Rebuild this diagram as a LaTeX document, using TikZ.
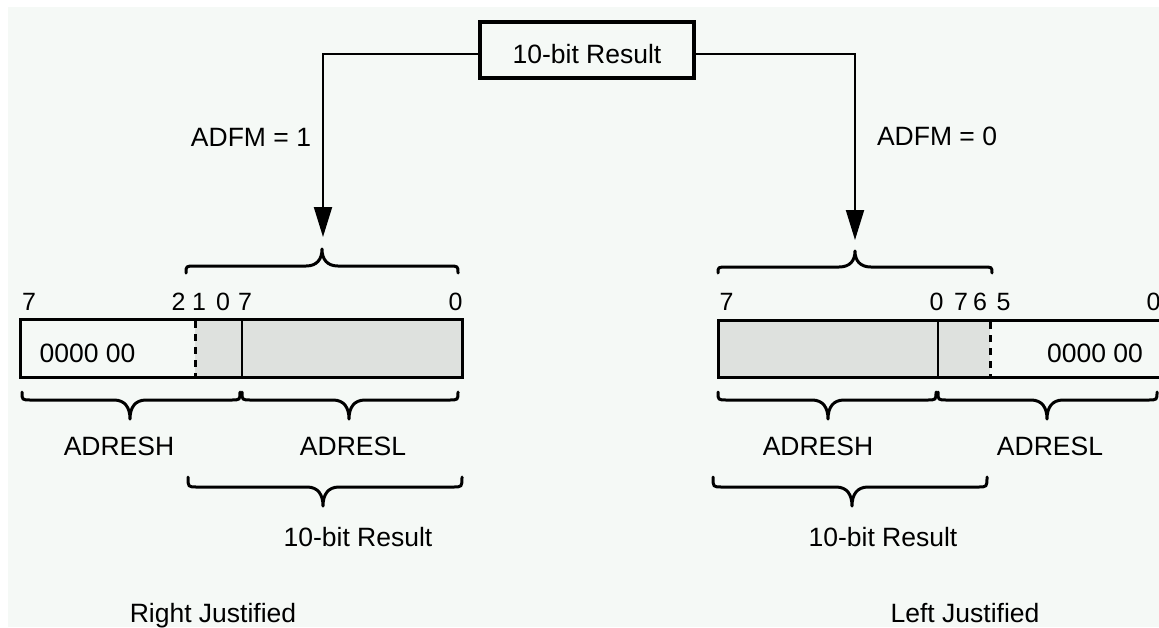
\documentclass[tikz,border=0pt]{standalone}
\usepackage{fontspec}
\setmainfont{Liberation Sans}
\usetikzlibrary{arrows.meta}
\definecolor{bg}{HTML}{F5F9F6}
\definecolor{shadegray}{HTML}{DEE1DE}
\newcommand\mybrace[6]{%
  \draw[brc] (#1,#4) .. controls (#1,#5) .. ({#1+9},#5) -- ({#3-16},#5)
    .. controls ({#3-5},#5) and (#3,{#5+(#6-#5)*0.4}) .. (#3,#6)
    .. controls (#3,{#5+(#6-#5)*0.4}) and ({#3+5},#5) .. ({#3+16},#5)
    -- ({#2-9},#5) .. controls (#2,#5) .. (#2,#4);}
\begin{document}
\begin{tikzpicture}[x=1pt,y=-1pt,
  lbl/.style={font=\fontsize{26.5}{30}\selectfont, inner sep=0pt, anchor=base},
  bit/.style={font=\fontsize{25}{28}\selectfont, inner sep=0pt, anchor=base},
  brc/.style={line width=3pt, line cap=round, line join=round},
  conn/.style={line width=2pt, -{Triangle[length=30pt,width=18pt]}},
  regline/.style={line width=3pt},
  dashsep/.style={line width=3pt, dash pattern=on 7pt off 6pt},
]
\useasboundingbox (0,0) rectangle (1159,627);
\fill[white] (0,0) rectangle (1159,627);
\fill[bg] (8,7) rectangle (1159,627);

% top result box
\node[draw, line width=3.5pt, minimum width=214pt, minimum height=56pt,
      inner sep=0pt, text height=33pt, text depth=7pt,
      font=\fontsize{26.5}{30}\selectfont] (res) at (587,50) {10-bit Result};
\coordinate (tipL) at (323,237);
\coordinate (tipR) at (855,240);
\draw[conn] ([yshift=-4pt]res.west) -| (tipL);
\draw[conn] ([yshift=-4pt]res.east) -| (tipR);
\node[lbl] (adfm1) at (251,146.5) {ADFM = 1};
\node[lbl] (adfm0) at (937,145.5) {ADFM = 0};

% top braces
\mybrace{186}{458}{322}{273}{266}{249}
\mybrace{718}{992}{855}{273}{267}{251}

% bit numbers left
\node[bit] (bl7) at (29,310.5) {7};
\node[bit] (bl2) at (178.5,310.5) {2};
\node[bit] (bl1) at (199,310.5) {1};
\node[bit] (bl0) at (223,310.5) {0};
\node[bit] (bl7b) at (245,310.5) {7};
\node[bit] (bl0b) at (455.5,310.5) {0};
% bit numbers right
\node[bit] (br7) at (726.5,310.5) {7};
\node[bit] (br0) at (936.5,310.5) {0};
\node[bit] (br7b) at (961,310.5) {7};
\node[bit] (br6) at (980,310.5) {6};
\node[bit] (br5) at (1003.5,310.5) {5};
\node[bit] (br0b) at (1153.5,310.5) {0};

% left register
\fill[shadegray] (195,319) rectangle (462,377);
\draw[regline] (20,319) rectangle (462,377);
\draw[dashsep] (195,321) -- (195,376);
\draw[line width=2pt] (242,319) -- (242,377);
\node[lbl] (zl) at (87.5,362.5) {0000 00};

% right register
\fill[shadegray] (718,320) rectangle (990,377);
\draw[regline] (1159,320) -- (718,320) -- (718,377) -- (1159,377);
\draw[dashsep] (990,322) -- (990,376);
\draw[line width=1.5pt] (938,320) -- (938,377);
\node[lbl] (zr) at (1095,362.5) {0000 00};

% lower braces
\mybrace{22}{240}{130}{392}{400}{419}
\mybrace{242}{458}{349}{392}{400}{419}
\mybrace{718}{936}{828}{392}{400}{419}
\mybrace{938}{1157}{1047}{392}{400}{419}
\node[lbl] (hl) at (119,455) {ADRESH};
\node[lbl] (ll) at (353,455) {ADRESL};
\node[lbl] (hr) at (818,455) {ADRESH};
\node[lbl] (lr) at (1050,455) {ADRESL};

% result braces
\mybrace{188}{462}{323}{477}{487}{506}
\mybrace{713}{987}{852}{477}{487}{506}
\node[lbl] (rl) at (358,546.5) {10-bit Result};
\node[lbl] (rr) at (883,546.5) {10-bit Result};

% captions
\node[lbl] (cr) at (213,622) {Right Justified};
\node[lbl] (cl) at (965,622) {Left Justified};
\end{tikzpicture}
\end{document}
